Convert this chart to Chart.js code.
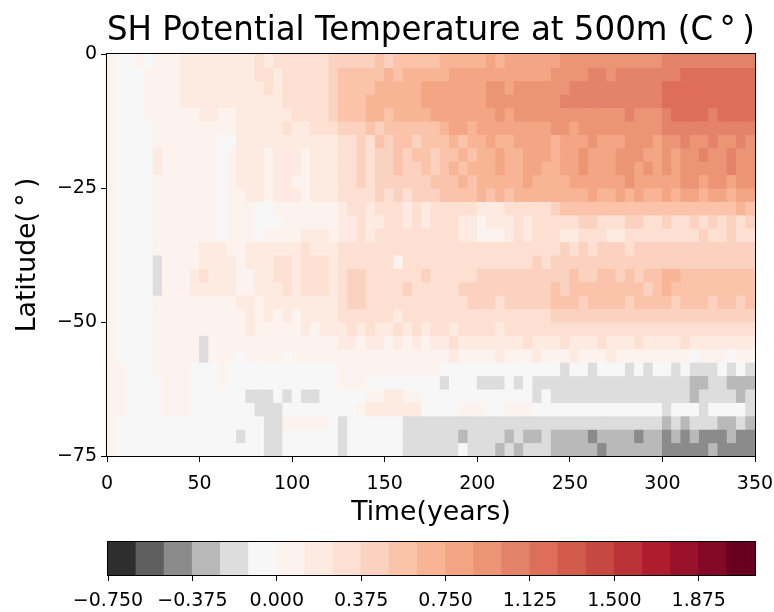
<!DOCTYPE html>
<html>
<head>
<meta charset="utf-8">
<script src="https://cdn.jsdelivr.net/npm/chart.js@4.4.0/dist/chart.umd.min.js"></script>
<style>
    body { margin: 0; background: #fff; }
    #wrap { position: relative; width: 774px; height: 612px; }
    #fieldChart { position: absolute; left: 0; top: 0; }
    #colorbar { position: absolute; left: 0; top: 530px; }
</style>
</head>
<body>
<div id="wrap">
    <canvas id="fieldChart" width="774" height="530"></canvas>
    <canvas id="colorbar" width="774" height="82"></canvas>
</div>
<script>
// start year of each 5-year column
const years = [0, 5, 10, 15, 20, 25, 30, 35, 40, 45, 50, 55, 60, 65, 70, 75, 80, 85, 90, 95,
    100, 105, 110, 115, 120, 125, 130, 135, 140, 145, 150, 155, 160, 165, 170, 175, 180, 185, 190, 195,
    200, 205, 210, 215, 220, 225, 230, 235, 240, 245, 250, 255, 260, 265, 270, 275, 280, 285, 290, 295,
    300, 305, 310, 315, 320, 325, 330, 335, 340, 345];
// northern edge of each 2.5 degree latitude row
const latitudes = [0, -2.5, -5, -7.5, -10, -12.5, -15, -17.5, -20, -22.5, -25, -27.5, -30, -32.5, -35,
    -37.5, -40, -42.5, -45, -47.5, -50, -52.5, -55, -57.5, -60, -62.5, -65, -67.5, -70, -72.5];

// contour levels (C) and their fill colours
const levels = [-0.75, -0.625, -0.5, -0.375, -0.25, -0.125, 0, 0.125, 0.25, 0.375, 0.5, 0.625,
    0.75, 0.875, 1, 1.125, 1.25, 1.375, 1.5, 1.625, 1.75, 1.875, 2, 2.125];
const levelColors = ['#2e2e2e', '#5f5f5f', '#8b8b8b', '#b9b9b9', '#dddddd', '#f7f7f7',
    '#fdf3ee', '#fdeae1', '#fde0d2', '#fbd2bf', '#fac3aa', '#f7b596', '#f4a684', '#ec9575',
    '#e5826a', '#dd6e5a', '#d25b4c', '#c74741', '#bb3237', '#ae1c2d', '#98102a', '#820826', '#68011f'];
const levelCodes = '0123456789ABCDEFGHIJKLM';

// level band of each cell, one string per latitude row (columns = years)
const fieldRows = [
    '655656667777 777787888888 99999A9AAAAA BBBBBCBCCCCC CDDDDDDDDDDD EEEEEEEEEE',
    '655566667777 777788788888 9AAAAABABBBB BCCCCCCCCCCC DDDDEEDEEEEE EEFFFFFFFF',
    '655566667777 777778788888 9AAAABBBBBCC CCCCCDDCDDDD DDEEEEEEEEEE FFFFFFFFFF',
    '655566667777 777777788888 9AAABBBBBBCC CCCCCDDDDDDD DEEEEEEEEEEE FFFFFFFFFF',
    '655566666677 667777778888 9AAABBABBBBC CCCCCCDCDDDD DDDDDDDDEDDD EFFFFEFFFF',
    '655556666666 667777787788 8999A9AAAAAA BCCBCCCCCCCC DDCDDDDDDDDD EEEEEEEEEE',
    '655556666666 557777777777 78898A9AA9AA ABABBCBBCCCC BCCCDCCCDDDC DDEDDEDDED',
    '655557666666 567776777677 7889899A9AA9 AABABBCBBCCC BCCDCCCDDDCC DCDDEDDEDD',
    '655557666666 567776777677 7889899A99A9 ABABBBCBBCCB BCCDCCCDDCDC DCDDDDDEDD',
    '655556666666 567776776677 78898999999A AABABBBBBCBB BBCCCCCCDCCC CCDDCDDCDD',
    '655556666666 566776777677 788889898999 AAAABABABBBB BBBBCBBCBCBB CBCCBCCBCC',
    '655556666666 566655666666 678878887878 888877788888 9AAAAAAAAAAA AAAAAAAABA',
    '655556666666 566655566666 677877887878 887767778788 888998889988 9889898989',
    '655556666666 566656666777 677878888888 887766678788 877888778888 8888988988',
    '655556666677 766777777877 788888888888 888888888888 898989998999 9999999999',
    '655554666677 776777887888 788888868888 888888888898 999999999999 9999999999',
    '655554666787 776677887888 789988888898 888899999999 99A99AA9A9AA BBAAAAAAAA',
    '655554666777 776677787888 789988889888 889999999999 A9AAAAAAAA9A BAAAAAAAAA',
    '655556666666 667767777777 789988888888 888999899999 AAA9AAAA9AAA A9AAA9AA9A',
    '655556666666 666767676777 788888878888 888888888888 999999999999 9999999999',
    '655556666666 666766666767 778787787878 878888788888 888888888888 8888888888',
    '655556666646 666666666666 677677676767 787777777877 787778777877 7787777777',
    '655556666646 665666656666 666666666666 676666766676 667666766666 6665666566',
    '665556666555 655555555555 566666666666 555555555555 545545554545 5454445454',
    '665555666555 655555555555 566655555555 455544454544 444444444444 4443344333',
    '665555666555 555444545445 555566776655 555555555545 444444444444 4443444434',
    '665555666555 555544455555 555677777755 556665566655 555555555555 4555455554',
    '655555555555 555554466666 545555554444 444444444444 444444444444 3434443343',
    '655555555555 554554455555 545555554444 443444434334 333323333233 2323222322',
    '655555555555 555554455555 545555554444 445444343444 333332333333 2222232222'
];

const xTicks = [0, 50, 100, 150, 200, 250, 300, 350];
const yTicks = [0, -25, -50, -75];
const cbTicks = [-0.75, -0.375, 0, 0.375, 0.75, 1.125, 1.5, 1.875];

Chart.defaults.font.family = "'DejaVu Sans', sans-serif";
Chart.defaults.color = '#000';

const minus = v => (v < 0 ? '\u2212' : '') + Math.abs(v);
const minus3 = v => (v < 0 ? '\u2212' : '') + Math.abs(v).toFixed(3);

// black box round the plot area, like matplotlib spines
const frame = {
    id: 'frame',
    afterDatasetsDraw(chart) {
        const a = chart.chartArea;
        const ctx = chart.ctx;
        ctx.save();
        ctx.strokeStyle = '#000';
        ctx.lineWidth = 1;
        ctx.strokeRect(a.left - 0.5, a.top - 0.5, a.right - a.left + 1, a.bottom - a.top + 1);
        ctx.restore();
    }
};

function tickGrid() {
    return { display: true, drawOnChartArea: false, drawTicks: true, tickLength: 6, color: '#000', lineWidth: 1 };
}

const colWidth = years[1] - years[0];
const rowHeight = latitudes[0] - latitudes[1];

const fieldDatasets = fieldRows.map((row, r) => {
    const codes = row.replace(/ /g, '').split('');
    return {
        data: years.map(t => ({ x: t + colWidth / 2, y: [latitudes[r] - rowHeight, latitudes[r]] })),
        backgroundColor: codes.map(c => levelColors[levelCodes.indexOf(c)]),
        borderWidth: 0,
        grouped: false,
        barPercentage: 1,
        categoryPercentage: 1,
        inflateAmount: 0.5
    };
});

new Chart(document.getElementById('fieldChart'), {
    type: 'bar',
    data: { datasets: fieldDatasets },
    options: {
        responsive: false,
        animation: false,
        events: [],
        layout: { padding: { left: 0, right: 19, top: 0, bottom: 0 } },
        plugins: {
            legend: { display: false },
            tooltip: { enabled: false },
            title: {
                display: true,
                fullSize: false,
                text: 'SH Potential Temperature at 500m (C\u2009\u00b0\u2009)',
                font: { size: 33, weight: 'normal' },
                color: '#000',
                padding: { top: 12, bottom: 2.4 }
            }
        },
        scales: {
            x: {
                type: 'linear',
                min: 0,
                max: 350,
                offset: false,
                grid: Object.assign(tickGrid(), { offset: false }),
                border: { display: false },
                afterBuildTicks: s => { s.ticks = xTicks.map(v => ({ value: v })); },
                afterFit: s => { s.height = 74; s.paddingLeft = 0; s.paddingRight = 0; },
                ticks: { font: { size: 19 }, color: '#000', padding: 11, maxRotation: 0, autoSkip: false, callback: v => minus(v) },
                title: { display: true, text: 'Time(years)', font: { size: 26.7 }, color: '#000', padding: { top: 0, bottom: 1 } }
            },
            y: {
                type: 'linear',
                min: -75,
                max: 0,
                grid: tickGrid(),
                border: { display: false },
                afterBuildTicks: s => { s.ticks = yTicks.map(v => ({ value: v })); },
                afterFit: s => { s.width = 107; s.paddingTop = 0; s.paddingBottom = 0; },
                ticks: { font: { size: 19 }, color: '#000', padding: 4, autoSkip: false, callback: v => minus(v) },
                title: { display: true, text: 'Latitude(\u2009\u00b0\u2009)', font: { size: 26.7 }, color: '#000', padding: { top: 12, bottom: 0 } }
            }
        }
    },
    plugins: [frame]
});

// colour bar
const cbData = levelColors.map((c, i) => ({ x: (levels[i] + levels[i + 1]) / 2, y: [0, 1] }));

new Chart(document.getElementById('colorbar'), {
    type: 'bar',
    data: {
        datasets: [{
            data: cbData,
            backgroundColor: levelColors,
            borderWidth: 0,
            grouped: false,
            barPercentage: 1,
            categoryPercentage: 1,
            inflateAmount: 0.5
        }]
    },
    options: {
        responsive: false,
        animation: false,
        events: [],
        layout: { padding: { left: 108, right: 19, top: 12, bottom: 0 } },
        plugins: { legend: { display: false }, tooltip: { enabled: false } },
        scales: {
            x: {
                type: 'linear',
                min: levels[0],
                max: levels[levels.length - 1],
                offset: false,
                grid: Object.assign(tickGrid(), { offset: false }),
                border: { display: false },
                afterBuildTicks: s => { s.ticks = cbTicks.map(v => ({ value: v })); },
                afterFit: s => { s.height = 37; s.paddingLeft = 0; s.paddingRight = 0; },
                ticks: { font: { size: 19 }, color: '#000', padding: 9, maxRotation: 0, autoSkip: false, callback: v => minus3(v) }
            },
            y: { type: 'linear', min: 0, max: 1, display: false }
        }
    },
    plugins: [frame]
});
</script>
</body>
</html>
